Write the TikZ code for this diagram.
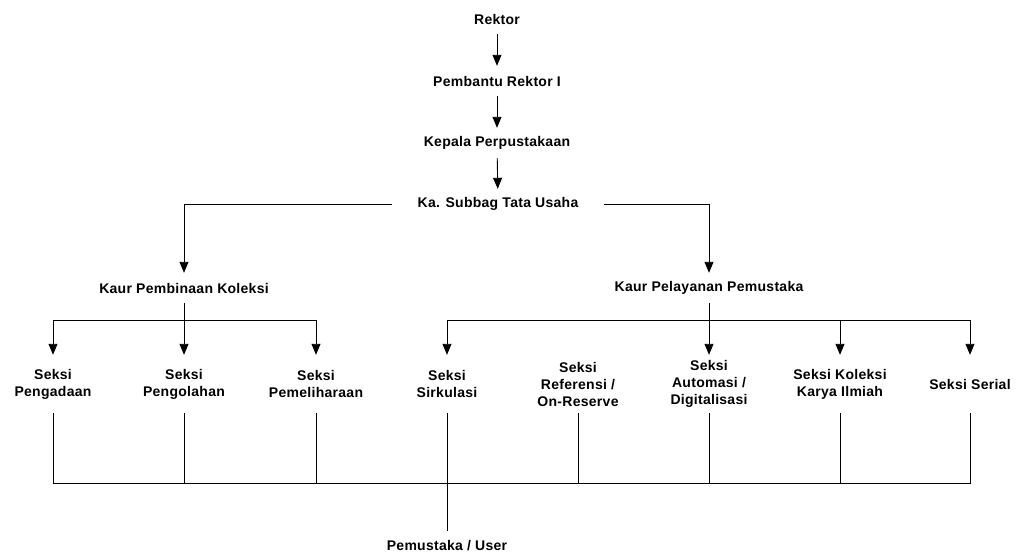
\documentclass[tikz,border=0pt]{standalone}
\usepackage{fontspec}
\setmainfont{Liberation Sans}[LetterSpace=2]
\usetikzlibrary{arrows.meta}
\begin{document}
\begin{tikzpicture}[x=1pt,y=-1pt,
  lbl/.style={font=\bfseries\fontsize{14}{17}\selectfont, align=center, inner sep=0pt, minimum height=30pt},
  sek/.style={lbl, minimum height=58pt, minimum width=110pt},
  ln/.style={line width=0.9pt, black},
  arr/.style={ln, -{Triangle[width=9pt,length=11pt]}}]
\useasboundingbox (0,0) rectangle (1019,554);
\node[lbl] (rektor) at (497,19) {Rektor};
\node[lbl] (pr) at (497,81) {Pembantu Rektor I};
\node[lbl] (kp) at (497,143) {Kepala Perpustakaan};
\node[lbl, minimum width=211pt] (ka) at (498,204) {Ka. Subbag Tata Usaha};
\node[lbl] (kpk) at (184,288) {Kaur Pembinaan Koleksi};
\node[lbl] (kpp) at (709,288) {Kaur Pelayanan Pemustaka};
\node[sek] (s1) at (53,384) {Seksi\\Pengadaan};
\node[sek] (s2) at (184,384) {Seksi\\Pengolahan};
\node[sek] (s3) at (316,384) {Seksi\\Pemeliharaan};
\node[sek] (s4) at (447,384) {Seksi\\Sirkulasi};
\node[sek] (s5) at (578,384) {Seksi\\Referensi /\\On-Reserve};
\node[sek] (s6) at (709,384) {Seksi\\Automasi /\\Digitalisasi};
\node[sek] (s7) at (840,384) {Seksi Koleksi\\Karya Ilmiah};
\node[sek] (s8) at (970,384) {Seksi Serial};
\node[lbl] (user) at (447,546) {Pemustaka / User};
\coordinate (bus) at (0,483);
% top chain
\draw[arr] (rektor) -- (pr);
\draw[arr] (pr) -- (kp);
\draw[arr] (kp) -- (ka);
\draw[arr] (ka.west) -| (kpk.north);
\draw[arr] (ka.east) -| (kpp.north);
% left branch
\draw[arr] (kpk.south) -- (s2.north);
\draw[arr] (kpk.south) ++(0,17) -| (s1.north);
\draw[arr] (kpk.south) ++(0,17) -| (s3.north);
% right branch
\draw[arr] (kpp.south) -- (s6.north);
\draw[arr] (kpp.south) ++(0,17) -| (s4.north);
\draw[arr] (kpp.south) ++(0,17) -| (s7.north);
\draw[arr] (kpp.south) ++(0,17) -| (s8.north);
% bottom bus
\draw[ln] (s1.south) -- (s1.south|-bus) -- (s8.south|-bus) -- (s8.south);
\foreach \s in {s2,s3,s5,s6,s7} \draw[ln] (\s.south) -- (\s.south|-bus);
\draw[ln] (s4.south) -- (user.north);
\end{tikzpicture}
\end{document}
